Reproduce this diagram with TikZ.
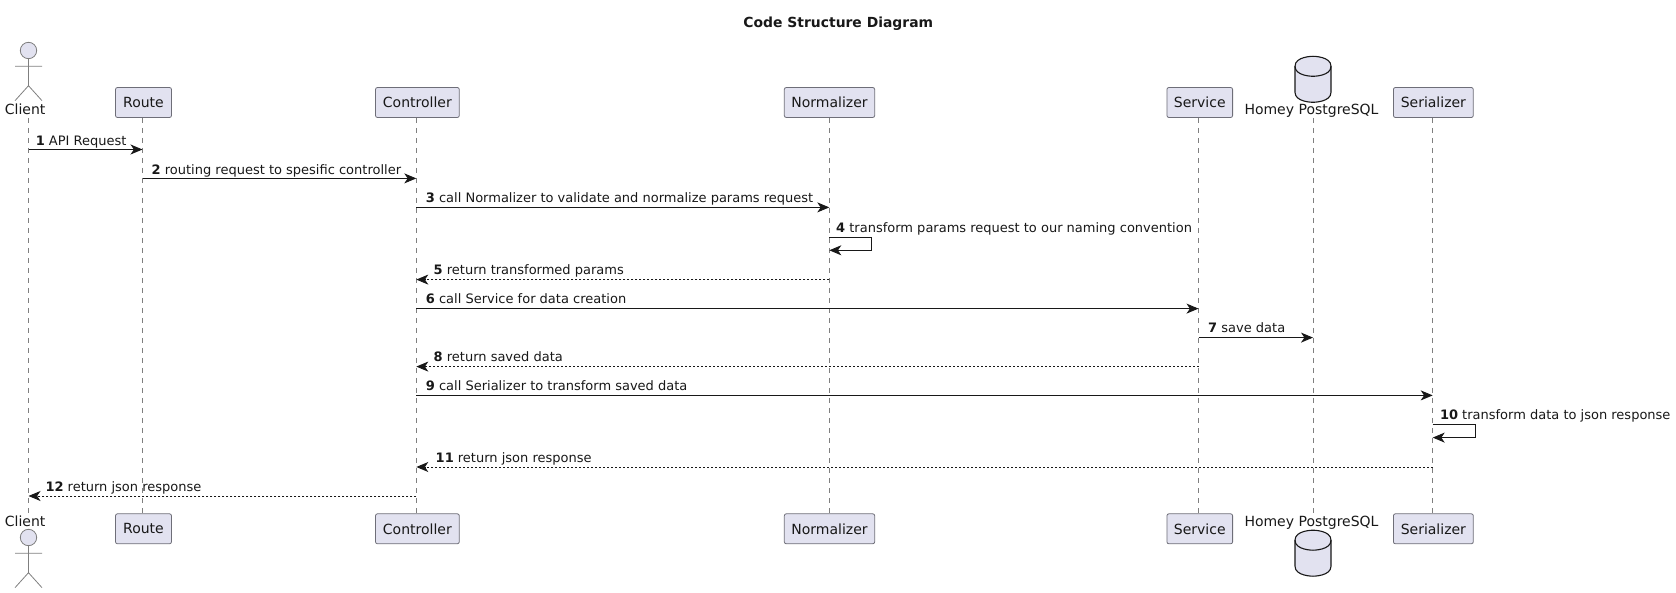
\documentclass[tikz,border=0pt]{standalone}
\usepackage{fontspec}
\setmainfont{DejaVu Sans}
\usetikzlibrary{arrows.meta}
\definecolor{partfill}{HTML}{E2E2F0}
\definecolor{partline}{HTML}{6E6E78}
\definecolor{lifeline}{HTML}{7F7F7F}
\definecolor{ink}{HTML}{181818}
\tikzset{
  x=1pt,y=-1pt,
  txt/.style={font=\fontsize{13}{15}\selectfont,text=ink,inner sep=0pt},
  bigtxt/.style={font=\fontsize{14}{15}\selectfont,text=ink,inner sep=0pt,anchor=base},
  part/.style={draw=partline,fill=partfill,rounded corners=2pt,line width=0.8pt,minimum height=30pt,inner sep=0pt,font=\fontsize{14}{15}\selectfont,text=ink},
  life/.style={draw=lifeline,line width=0.8pt,dash pattern=on 5pt off 5pt},
  msgbase/.style={draw=ink,line width=0.95pt,-{Stealth[length=12pt,width=10pt,inset=3.4pt,color=ink]}},
  reply/.style={msgbase,dash pattern=on 2pt off 2pt},
  lab/.style={txt,anchor=base west},
  actorline/.style={draw=lifeline,line width=0.8pt},
  dbshape/.style={draw=ink,fill=partfill,line width=1.1pt},
}
\newcommand{\stepno}[1]{\textbf{#1}}
\newcommand{\actorfig}[1]{%
  \draw[actorline,fill=partfill] (28.5,#1-8.2) circle[radius=8.2];
  \draw[actorline] (28.5,#1) -- (28.5,#1+27) (15,#1+7.6) -- (42,#1+7.6)
    (15,#1+42) -- (28.5,#1+27) -- (42,#1+42);}
\newcommand{\dbfig}[1]{%
  \draw[dbshape] (1295,#1+10) .. controls (1295,#1) and (1313,#1) .. (1313,#1)
    .. controls (1313,#1) and (1331,#1) .. (1331,#1+10)
    -- (1331,#1+36) .. controls (1331,#1+46) and (1313,#1+46) .. (1313,#1+46)
    .. controls (1313,#1+46) and (1295,#1+46) .. (1295,#1+36) -- cycle;
  \draw[dbshape,fill=none] (1295,#1+10) .. controls (1295,#1+20) and (1313,#1+20) .. (1313,#1+20)
    .. controls (1313,#1+20) and (1331,#1+20) .. (1331,#1+10);}
\begin{document}
\begin{tikzpicture}
\useasboundingbox (0,0) rectangle (1676,593);
% lifelines ends
\foreach \n/\x in {Client/28.5,Route/142.5,Controller/416.3,Normalizer/829.3,Service/1198.5,Db/1313,Serializer/1432.7}{
  \coordinate (\n T) at (\x,118);
  \coordinate (\n B) at (\x,514);
}
\foreach \n/\y in {1/149.5,2/178.4,3/207.4,4/237.3,4b/250.3,5/279.6,6/308.6,7/337.6,8/366.6,9/395.4,10/424.4,10b/437.6,11/467,12/496}{
  \coordinate (y\n) at (0,\y);
}
\coordinate (loopA) at (871.7,0);
\coordinate (loopB) at (1475.4,0);
\foreach \n in {Client,Route,Controller,Normalizer,Service,Db,Serializer}{
  \draw[life] (\n T) -- (\n B);
}
% title
\node[txt,font=\fontsize{13.9}{15}\selectfont\bfseries] (title) at (838.3,24) {Code Structure Diagram};
% actor
\actorfig{58.7}
\node[bigtxt] (clientTop) at (25.2,115) {Client};
\node[bigtxt] (clientBot) at (25.2,526) {Client};
\actorfig{545.7}
% database
\dbfig{56.3}
\node[bigtxt] (dbTop) at (1311.5,115) {Homey PostgreSQL};
\node[bigtxt] (dbBot) at (1311.5,526) {Homey PostgreSQL};
\dbfig{530.2}
% participants
\foreach \n/\xl/\xr/\tx in {Route/115.5/171.5/Route,Controller/375.5/459.3/Controller,Normalizer/784.3/874.7/Normalizer,Service/1166.9/1232.6/Service,Serializer/1393.4/1473.3/Serializer}{
  \pgfmathsetmacro{\cx}{(\xl+\xr)/2}
  \pgfmathsetmacro{\bw}{\xr-\xl}
  \node[part,minimum width=\bw pt] (\n top) at (\cx,102.5) {\tx};
  \node[part,minimum width=\bw pt] (\n bot) at (\cx,528.8) {\tx};
}
% messages
\draw[msgbase] (ClientT |- y1) -- (RouteT |- y1);
\node[lab] (l1) at (35.6,145.3) {\stepno{1} API Request};
\draw[msgbase] (RouteT |- y2) -- (ControllerT |- y2);
\node[lab] (l2) at (151.5,174.3) {\stepno{2} routing request to spesific controller};
\draw[msgbase] (ControllerT |- y3) -- (NormalizerT |- y3);
\node[lab] (l3) at (425.7,203) {\stepno{3} call Normalizer to validate and normalize params request};
\draw[msgbase] (NormalizerT |- y4) -- (loopA |- y4) -- (loopA |- y4b) -- (NormalizerT |- y4b);
\node[lab] (l4) at (836,232.6) {\stepno{4} transform params request to our naming convention};
\draw[reply] (NormalizerT |- y5) -- (ControllerT |- y5);
\node[lab] (l5) at (433.5,274.8) {\stepno{5} return transformed params};
\draw[msgbase] (ControllerT |- y6) -- (ServiceT |- y6);
\node[lab] (l6) at (425.7,303.8) {\stepno{6} call Service for data creation};
\draw[msgbase] (ServiceT |- y7) -- (DbT |- y7);
\node[lab] (l7) at (1208,332.8) {\stepno{7} save data};
\draw[reply] (ServiceT |- y8) -- (ControllerT |- y8);
\node[lab] (l8) at (433.5,361.7) {\stepno{8} return saved data};
\draw[msgbase] (ControllerT |- y9) -- (SerializerT |- y9);
\node[lab] (l9) at (425.7,391) {\stepno{9} call Serializer to transform saved data};
\draw[msgbase] (SerializerT |- y10) -- (loopB |- y10) -- (loopB |- y10b) -- (SerializerT |- y10b);
\node[lab] (l10) at (1439.8,420) {\stepno{10} transform data to json response};
\draw[reply] (SerializerT |- y11) -- (ControllerT |- y11);
\node[lab] (l11) at (435.5,462) {\stepno{11} return json response};
\draw[reply] (ControllerT |- y12) -- (ClientT |- y12);
\node[lab] (l12) at (45.3,491.3) {\stepno{12} return json response};
\end{tikzpicture}
\end{document}
